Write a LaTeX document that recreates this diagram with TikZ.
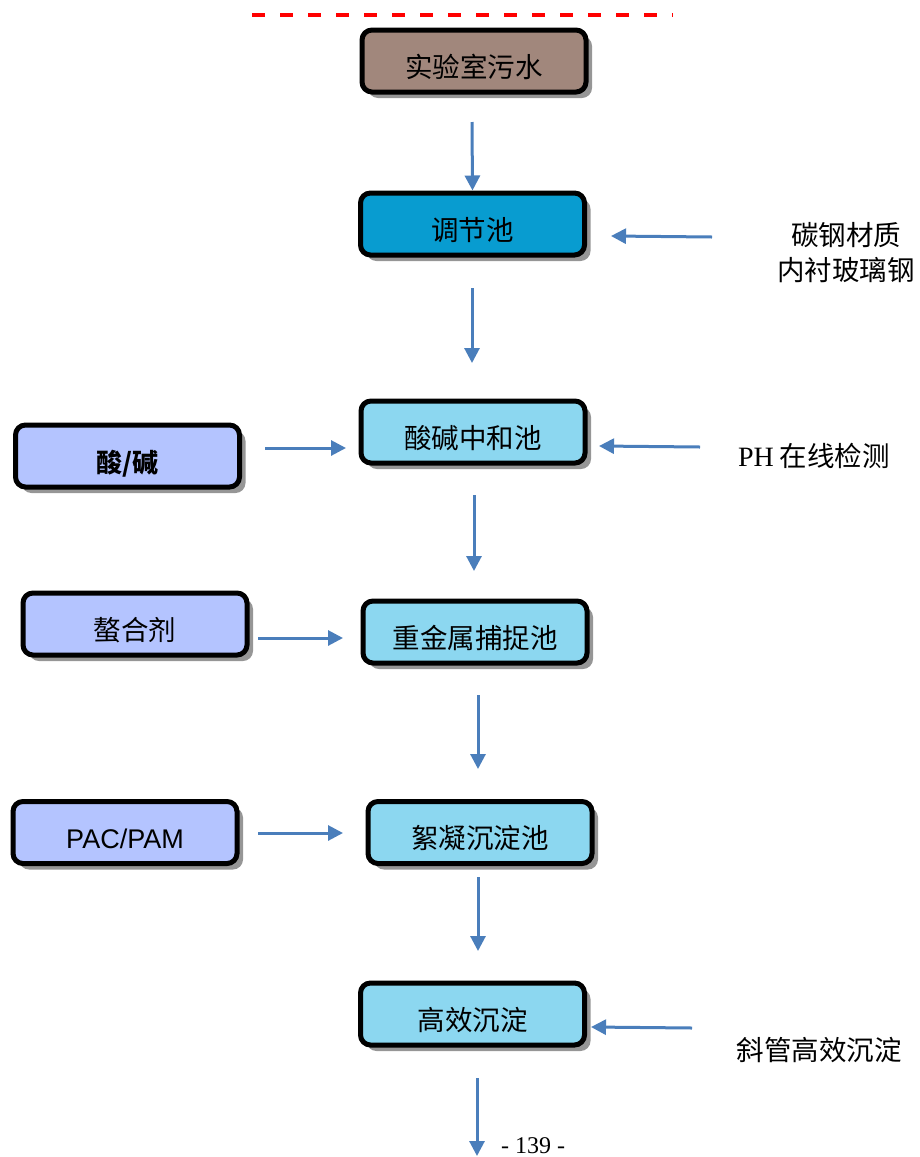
\documentclass[tikz,border=0pt]{standalone}
\usepackage{fontspec}
\setmainfont{Liberation Serif}
\setsansfont{Liberation Sans}
\newfontfamily\cjk{Noto Sans CJK SC}
\usetikzlibrary{arrows.meta,shadows}
\definecolor{srcfill}{RGB}{161,135,124}
\definecolor{tjfill}{RGB}{8,156,208}
\definecolor{poolfill}{RGB}{140,215,240}
\definecolor{agentfill}{RGB}{180,196,255}
\definecolor{arrowblue}{RGB}{74,126,187}
\definecolor{shadowgray}{RGB}{150,150,150}
\tikzset{
  box/.style={draw=black, line width=5pt, rounded corners=10pt,
    minimum width=224pt, minimum height=62pt, inner sep=0pt,
    text height=40pt, text depth=8pt,
    font=\cjk\fontsize{27.5}{32}\selectfont,
    drop shadow={shadow xshift=6pt, shadow yshift=-6pt, fill=shadowgray, opacity=1}},
  flow/.style={draw=arrowblue, line width=3pt, -{Triangle[length=15pt,width=15pt]}},
  note/.style={font=\cjk\fontsize{27.5}{35}\selectfont, align=center, inner sep=0pt},
}
\begin{document}
\begin{tikzpicture}[x=1pt,y=-1pt]
\useasboundingbox (0,0) rectangle (919,1157);
% red dashed line
\draw[red, line width=4pt, dash pattern=on 13pt off 15pt] (252,15) -- (673,15);

% boxes
\node[box, fill=srcfill] (src) at (474,61) {实验室污水};
\node[box, fill=tjfill] (tj) at (472.5,224) {调节池};
\node[box, fill=poolfill] (zh) at (473,432) {酸碱中和池};
\node[box, fill=agentfill, font=\cjk\bfseries\fontsize{26}{30}\selectfont] (sj) at (127.5,456) {酸/碱};
\node[box, fill=agentfill] (ahj) at (135,624) {螯合剂};
\node[box, fill=poolfill] (zj) at (475,632) {重金属捕捉池};
\node[box, fill=agentfill, font=\sffamily\fontsize{27}{30}\selectfont] (pac) at (125,832.5) {PAC/PAM};
\node[box, fill=poolfill] (xn) at (480,832.5) {絮凝沉淀池};
\node[box, fill=poolfill] (gx) at (472.5,1014) {高效沉淀};

% notes
\node[note] (tg) at (846,253) {碳钢材质\\内衬玻璃钢};
\node[note] (ph) at (814,456) {{\rmfamily\fontsize{28}{32}\selectfont PH} 在线检测};
\node[note] (xg) at (819,1050) {斜管高效沉淀};
\node[font=\rmfamily\fontsize{24}{28}\selectfont, inner sep=0pt] (pg) at (533,1146) {- 139 -};

% arrow coordinates
\coordinate (a1s) at (472,122);
\coordinate (a2s) at (472,288); \coordinate (a2e) at (472,363);
\coordinate (a3s) at (474,495); \coordinate (a3e) at (474,571);
\coordinate (a4s) at (478,695); \coordinate (a4e) at (478,769);
\coordinate (a5s) at (478,877); \coordinate (a5e) at (478,951);
\coordinate (a6s) at (477,1078); \coordinate (a6e) at (477,1156);
\coordinate (h1s) at (712,237); \coordinate (h1e) at (611,236);
\coordinate (h2s) at (700,447); \coordinate (h2e) at (599,446);
\coordinate (h3s) at (265,448); \coordinate (h3e) at (346,448);
\coordinate (h4s) at (258,638); \coordinate (h4e) at (343,638);
\coordinate (h5s) at (258,833); \coordinate (h5e) at (343,833);
\coordinate (h6s) at (692,1028); \coordinate (h6e) at (591,1027);

\draw[flow] (a1s) -- (tj.north);
\draw[flow] (a2s) -- (a2e);
\draw[flow] (a3s) -- (a3e);
\draw[flow] (a4s) -- (a4e);
\draw[flow] (a5s) -- (a5e);
\draw[flow] (a6s) -- (a6e);
\draw[flow] (h1s) -- (h1e);
\draw[flow] (h2s) -- (h2e);
\draw[flow] (h3s) -- (h3e);
\draw[flow] (h4s) -- (h4e);
\draw[flow] (h5s) -- (h5e);
\draw[flow] (h6s) -- (h6e);
\end{tikzpicture}
\end{document}
